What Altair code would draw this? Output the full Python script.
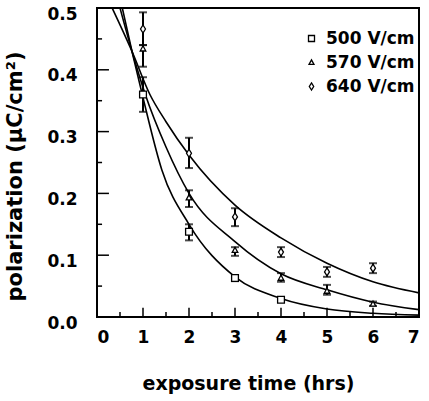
import altair as alt
import pandas as pd

# ---- data ----
series = ["500 V/cm", "570 V/cm", "640 V/cm"]

x500 = [1, 2, 3, 4]
p500 = [0.360, 0.138, 0.063, 0.028]
lo500 = [0.332, 0.124, 0.058, 0.025]
hi500 = [0.388, 0.150, 0.068, 0.031]

x570 = [1, 2, 3, 4, 5, 6]
p570 = [0.434, 0.193, 0.108, 0.063, 0.042, 0.021]
lo570 = [0.405, 0.178, 0.099, 0.057, 0.036, 0.018]
hi570 = [0.440, 0.205, 0.113, 0.071, 0.052, 0.025]

x640 = [1, 2, 3, 4, 5, 6]
p640 = [0.466, 0.265, 0.162, 0.105, 0.073, 0.079]
lo640 = [0.440, 0.241, 0.147, 0.097, 0.065, 0.071]
hi640 = [0.493, 0.290, 0.176, 0.113, 0.081, 0.087]

# fitted curves
fx500 = [0.55, 0.76, 1.0, 1.41, 2, 3, 4, 5, 6, 7]
fy500 = [0.50, 0.43, 0.355, 0.238, 0.150, 0.065, 0.030, 0.013, 0.006, 0.003]
fx570 = [0.50, 0.76, 1.05, 1.5, 2, 3, 4, 5, 6, 7]
fy570 = [0.50, 0.43, 0.360, 0.275, 0.200, 0.122, 0.070, 0.044, 0.024, 0.012]
fx640 = [0.33, 0.76, 1.15, 1.5, 2, 3, 4, 5, 6, 7]
fy640 = [0.50, 0.43, 0.360, 0.316, 0.262, 0.181, 0.128, 0.087, 0.057, 0.039]

x_ticks = [0, 1, 2, 3, 4, 5, 6, 7]
x_minor = [0.5, 1.5, 2.5, 3.5, 4.5, 5.5, 6.5]
y_ticks = [0.0, 0.1, 0.2, 0.3, 0.4, 0.5]
y_minor = [0.05, 0.15, 0.25, 0.35, 0.45]

# ---- tables ----
pts = pd.concat([
    pd.DataFrame({"t": x500, "p": p500, "lo": lo500, "hi": hi500, "s": series[0]}),
    pd.DataFrame({"t": x570, "p": p570, "lo": lo570, "hi": hi570, "s": series[1]}),
    pd.DataFrame({"t": x640, "p": p640, "lo": lo640, "hi": hi640, "s": series[2]}),
])
fits = pd.concat([
    pd.DataFrame({"t": fx500, "p": fy500, "s": series[0]}),
    pd.DataFrame({"t": fx570, "p": fy570, "s": series[1]}),
    pd.DataFrame({"t": fx640, "p": fy640, "s": series[2]}),
])

FONT = "DejaVu Sans"
xs = alt.Scale(domain=[0, 7], nice=False, zero=False)
ys = alt.Scale(domain=[0, 0.5], nice=False, zero=False)

xax = alt.Axis(values=x_ticks, format="d", tickSize=0, domain=False, grid=False,
               labelFont=FONT, labelFontSize=17, labelFontWeight="bold", labelColor="black",
               labelPadding=12, title="exposure time (hrs)", titleFont=FONT, titleFontSize=19,
               titleFontWeight="bold", titleColor="black", titleX=151, titleY=66,
               titleBaseline="middle", titleAlign="center")
yax = alt.Axis(values=y_ticks, format=".1f", tickSize=0, domain=False, grid=False,
               labelFont=FONT, labelFontSize=17, labelFontWeight="bold", labelColor="black",
               labelPadding=20, labelOffset=6, title="polarization (µC/cm²)", titleFont=FONT,
               titleFontSize=21, titleFontWeight="bold", titleColor="black",
               titleX=-82, titleY=168, titleAngle=270, titleBaseline="middle", titleAlign="center")

shape_scale = alt.Scale(domain=series,
                        range=["M-0.85,-0.85L0.85,-0.85L0.85,0.85L-0.85,0.85Z",
                               "M0,-0.75L0.7,0.55L-0.7,0.55Z",
                               "M0,-1L0.62,0L0,1L-0.62,0Z"])
stroke_scale = alt.Scale(domain=series, range=["black", "black", "black"])

lines = alt.Chart(fits).mark_line(color="black", strokeWidth=1.6, clip=True,
                                  interpolate="monotone").encode(
    x=alt.X("t:Q", scale=xs, axis=xax),
    y=alt.Y("p:Q", scale=ys, axis=yax),
    detail="s:N",
)

bars = alt.Chart(pts).mark_rule(color="black", strokeWidth=2).encode(
    x=alt.X("t:Q", scale=xs), y=alt.Y("lo:Q", scale=ys), y2="hi:Q")
cap_lo = alt.Chart(pts).mark_tick(color="black", thickness=2, size=8, orient="horizontal").encode(
    x=alt.X("t:Q", scale=xs), y=alt.Y("lo:Q", scale=ys))
cap_hi = alt.Chart(pts).mark_tick(color="black", thickness=2, size=8, orient="horizontal").encode(
    x=alt.X("t:Q", scale=xs), y=alt.Y("hi:Q", scale=ys))

leg = alt.Legend(
    title=None, orient="none", legendX=206, legendY=22, padding=0,
    labelFont=FONT, labelFontSize=17, labelFontWeight="bold", labelColor="black",
    symbolStrokeWidth=1.3, symbolSize=50, symbolFillColor="white", symbolOpacity=1,
    rowPadding=6, labelOffset=6)

points = alt.Chart(pts).mark_point(filled=False, strokeWidth=1.3, size=64, opacity=1,
                                   fill="white", fillOpacity=1).encode(
    x=alt.X("t:Q", scale=xs),
    y=alt.Y("p:Q", scale=ys),
    shape=alt.Shape("s:N", scale=shape_scale, legend=leg),
    stroke=alt.Stroke("s:N", scale=stroke_scale, legend=leg),
)

# inward axis ticks
xt_major = alt.Chart(pd.DataFrame({"t": x_ticks})).mark_rule(color="black", strokeWidth=1.5).encode(
    x=alt.X("t:Q", scale=xs), y=alt.datum(0), y2=alt.datum(0.015))
xt_minor = alt.Chart(pd.DataFrame({"t": x_minor})).mark_rule(color="black", strokeWidth=1.5).encode(
    x=alt.X("t:Q", scale=xs), y=alt.datum(0), y2=alt.datum(0.008))
yt_major = alt.Chart(pd.DataFrame({"v": y_ticks})).mark_rule(color="black", strokeWidth=1.5).encode(
    y=alt.Y("v:Q", scale=ys), x=alt.datum(0), x2=alt.datum(0.26))
yt_minor = alt.Chart(pd.DataFrame({"v": y_minor})).mark_rule(color="black", strokeWidth=1.5).encode(
    y=alt.Y("v:Q", scale=ys), x=alt.datum(0), x2=alt.datum(0.11))

chart = alt.layer(lines, xt_major, xt_minor, yt_major, yt_minor, bars, cap_lo, cap_hi, points).properties(
    width=322, height=309,
    autosize=alt.AutoSizeParams(type="none"),
    padding={"left": 97, "top": 8, "right": 10, "bottom": 84},
    background="white",
).configure_view(stroke="black", strokeWidth=2)

chart.save("out.html", embed_options={"renderer": "svg", "actions": False})
